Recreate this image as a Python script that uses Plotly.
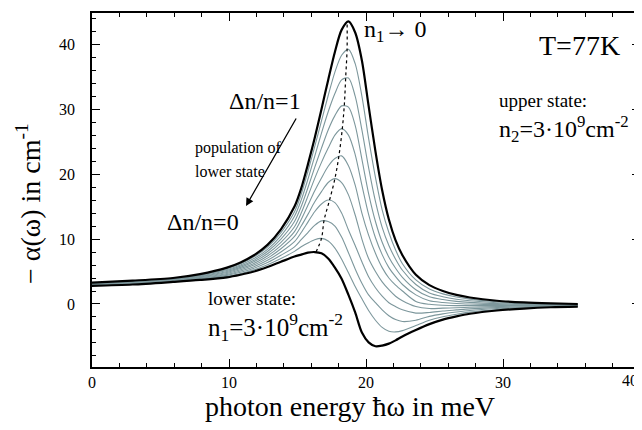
import plotly.graph_objects as go

# photon energy grid (meV) at which the curves were read
energy = [0, 2.96, 5.91, 7.88, 9.85, 10.84, 11.82, 12.81, 13.79, 14.78, 15.27, 15.76,
          16.25, 16.75, 17.24, 17.73, 18.22, 18.72, 19.21, 19.7, 20.19, 20.69, 21.18,
          21.67, 22.16, 22.66, 23.64, 24.63, 25.61, 26.6, 27.58, 29.55, 31.52, 33.49, 35.46]

# -alpha(omega) in 1/cm, Delta n/n = 0 (bottom) ... 1 (top)
curve_00 = [2.8, 3.0, 3.4, 3.7, 4.1, 4.5, 5.0, 5.7, 6.5, 7.3, 7.6, 7.9, 8.0, 7.8, 7.0, 5.6, 3.9, 1.4,
            -1.3, -4.4, -5.9, -6.5, -6.4, -6.1, -5.6, -5.0, -4.0, -3.1, -2.4, -1.9, -1.5, -1.0, -0.7, -0.5, -0.4]
curve_01 = [2.85, 3.06, 3.46, 3.79, 4.25, 4.69, 5.25, 6.04, 7.0, 8.1, 8.8, 9.4, 9.9, 10.1, 9.7, 8.6, 6.9, 4.8,
            2.7, 0.8, -1.0, -2.5, -3.6, -4.2, -4.3, -4.1, -3.3, -2.5, -1.96, -1.57, -1.25, -0.85, -0.6, -0.44, -0.36]
curve_02 = [2.9, 3.12, 3.52, 3.88, 4.4, 4.88, 5.5, 6.38, 7.5, 8.8, 9.9, 11.0, 12.1, 12.8, 12.7, 12.0, 10.3, 7.9,
            5.4, 3.2, 1.4, 0.2, -0.9, -1.8, -2.4, -2.7, -2.5, -1.9, -1.52, -1.24, -1.0, -0.7, -0.51, -0.38, -0.32]
curve_03 = [2.95, 3.18, 3.58, 3.97, 4.55, 5.07, 5.75, 6.72, 8.0, 9.6, 11.0, 12.6, 14.2, 15.4, 16.0, 15.6, 14.0, 11.4,
            9.0, 6.5, 4.2, 2.5, 1.2, 0.2, -0.4, -0.9, -1.4, -1.3, -1.08, -0.91, -0.75, -0.55, -0.415, -0.32, -0.28]
curve_04 = [3.0, 3.24, 3.64, 4.06, 4.7, 5.26, 6.0, 7.06, 8.5, 10.4, 12.0, 13.8, 15.7, 17.3, 18.7, 19.3, 18.7, 16.8,
            13.7, 10.0, 7.0, 5.0, 3.4, 2.2, 1.2, 0.5, -0.4, -0.7, -0.64, -0.58, -0.5, -0.4, -0.32, -0.26, -0.24]
curve_05 = [3.05, 3.3, 3.7, 4.15, 4.85, 5.45, 6.25, 7.4, 9.0, 11.15, 13.0, 15.2, 17.4, 19.4, 21.2, 22.4, 22.8, 21.3,
            18.3, 14.0, 10.6, 7.8, 5.6, 4.0, 2.9, 2.0, 0.4, -0.05, -0.2, -0.25, -0.25, -0.25, -0.225, -0.2, -0.2]
curve_06 = [3.1, 3.36, 3.76, 4.24, 5.0, 5.64, 6.5, 7.74, 9.5, 11.9, 14.0, 16.6, 19.3, 21.8, 24.0, 26.0, 27.0, 26.0,
            23.0, 18.3, 13.8, 10.2, 7.6, 5.6, 4.2, 3.0, 1.4, 0.5, 0.24, 0.08, 0.0, -0.1, -0.13, -0.14, -0.16]
curve_07 = [3.15, 3.42, 3.82, 4.33, 5.15, 5.83, 6.75, 8.08, 10.0, 12.7, 15.0, 17.9, 21.0, 24.0, 26.8, 29.0, 30.5, 30.3,
            27.5, 22.3, 17.0, 12.7, 9.5, 7.2, 5.5, 4.1, 2.2, 1.1, 0.68, 0.41, 0.25, 0.05, -0.035, -0.08, -0.12]
curve_08 = [3.2, 3.48, 3.88, 4.42, 5.3, 6.02, 7.0, 8.42, 10.5, 13.5, 16.0, 19.2, 22.7, 26.3, 29.6, 32.4, 34.5, 34.8,
            32.0, 26.8, 21.0, 15.8, 11.8, 9.0, 6.9, 5.2, 3.0, 1.7, 1.12, 0.74, 0.5, 0.2, 0.06, -0.02, -0.08]
curve_09 = [3.25, 3.54, 3.94, 4.51, 5.45, 6.21, 7.25, 8.76, 11.0, 14.2, 16.9, 20.4, 24.2, 28.2, 32.1, 35.7, 38.3, 39.2,
            37.0, 32.0, 25.5, 19.5, 14.5, 11.0, 8.3, 6.2, 3.7, 2.3, 1.56, 1.07, 0.75, 0.35, 0.155, 0.04, -0.04]
curve_10 = [3.3, 3.6, 4.0, 4.6, 5.6, 6.4, 7.5, 9.1, 11.5, 15.0, 17.8, 21.5, 25.5, 30.0, 34.5, 38.8, 42.2, 43.5,
            41.8, 37.5, 30.5, 23.5, 17.5, 13.0, 9.8, 7.5, 4.5, 2.9, 2.0, 1.4, 1.0, 0.5, 0.25, 0.1, 0.0]

# peak positions (dotted line)
peak_x = [16.35, 16.75, 16.94, 17.34, 17.73, 18.03, 18.27, 18.42, 18.52, 18.62, 18.62]
peak_y = [8.0, 10.1, 12.9, 16.0, 19.3, 22.9, 27.0, 30.7, 35.0, 39.3, 43.5]

x_ticks = [0, 10, 20, 30, 40]
x_ticklabels = ["0", "10", "20", "30", ""]   # the "40" is placed as text at the right edge
x_edge_label = "40"
y_ticks = [0, 10, 20, 30, 40]

curves = [curve_00, curve_01, curve_02, curve_03, curve_04, curve_05,
          curve_06, curve_07, curve_08, curve_09, curve_10]

FONT = "Liberation Serif"
OFF = 8                      # default page margin of the html body
W, H = 642 - OFF, 430 - OFF  # figure size inside the page
# plot area in page pixels: x 92..640, y 13..367
L, T = 92 - OFF, 13 - OFF
R = W - (640 - OFF)
B = H - (367 - OFF)

fig = go.Figure()
for i, c in enumerate(curves):
    if i in (0, 10):
        continue
    fig.add_trace(go.Scatter(x=energy, y=c, mode="lines",
                             line=dict(color="#7d979c", width=1.1, shape="spline", smoothing=0.8),
                             hoverinfo="skip", showlegend=False))
fig.add_trace(go.Scatter(x=peak_x, y=peak_y, mode="lines",
                         line=dict(color="black", width=1.2, dash="dot", shape="spline"),
                         showlegend=False))
for c in (curve_00, curve_10):
    fig.add_trace(go.Scatter(x=energy, y=c, mode="lines",
                             line=dict(color="black", width=2.2, shape="spline", smoothing=0.8),
                             showlegend=False))

pw, ph = W - L - R, H - T - B


def px(xp):
    return (xp - OFF - L) / pw


def py(yp):
    return (H - B - (yp - OFF)) / ph


def txt(x, y, s, size, xanchor="left"):
    fig.add_annotation(x=px(x), y=py(y), xref="paper", yref="paper", text=s,
                       showarrow=False, xanchor=xanchor, yanchor="middle",
                       font=dict(family=FONT, size=size, color="black"))


txt(362, 31, "n<sub>1</sub>→ 0", 24)
txt(537, 46, "T=77K", 28)
txt(497, 100, "upper state:", 19)
txt(497, 129, "n<sub>2</sub>=3·10<sup>9</sup>cm<sup>-2</sup>", 24)
txt(227, 101, "Δn/n=1", 24)
txt(193, 148, "population of", 16)
txt(193, 171, "lower state", 16)
txt(165, 222, "Δn/n=0", 24)
txt(206, 298, "lower state:", 19)
txt(206, 327, "n<sub>1</sub>=3·10<sup>9</sup>cm<sup>-2</sup>", 25)
txt(640, 380, x_edge_label, 16, xanchor="right")

# arrow
fig.add_annotation(x=px(246), y=py(206), xref="paper", yref="paper", ax=51, ay=-89,
                   axref="pixel", ayref="pixel", text="", showarrow=True,
                   arrowhead=2, arrowsize=1.2, arrowwidth=1.3, arrowcolor="black")

# axis titles
fig.add_annotation(x=px(350), y=py(406), xref="paper", yref="paper",
                   text="photon energy ħω in meV", showarrow=False,
                   font=dict(family=FONT, size=28, color="black"), yanchor="middle")
fig.add_annotation(x=px(28), y=py(204), xref="paper", yref="paper",
                   text="− α(ω) in cm<sup>-1</sup>", showarrow=False, textangle=-90,
                   font=dict(family=FONT, size=28, color="black"), xanchor="center", yanchor="middle")

axis_common = dict(showline=True, linecolor="black", linewidth=1.5, mirror="allticks",
                   ticks="inside", ticklen=8, tickwidth=1.2, tickcolor="black",
                   showgrid=False, zeroline=False, automargin=False,
                   tickfont=dict(family=FONT, size=16, color="black"),
                   minor=dict(dtick=2, ticks="inside", ticklen=4, tickwidth=1, tickcolor="black"))

fig.update_layout(
    width=W, height=H, margin=dict(l=L, r=R, t=T, b=B, autoexpand=False),
    paper_bgcolor="white", plot_bgcolor="white",
    xaxis=dict(range=[0, 40], tickvals=x_ticks, ticktext=x_ticklabels,
               ticklabelstandoff=0, **axis_common),
    yaxis=dict(range=[-9.7, 44.8], tickvals=y_ticks, ticktext=[str(v) for v in y_ticks],
               ticklabelstandoff=12, **axis_common),
    font=dict(family=FONT),
)

fig.write_html("out.html")
